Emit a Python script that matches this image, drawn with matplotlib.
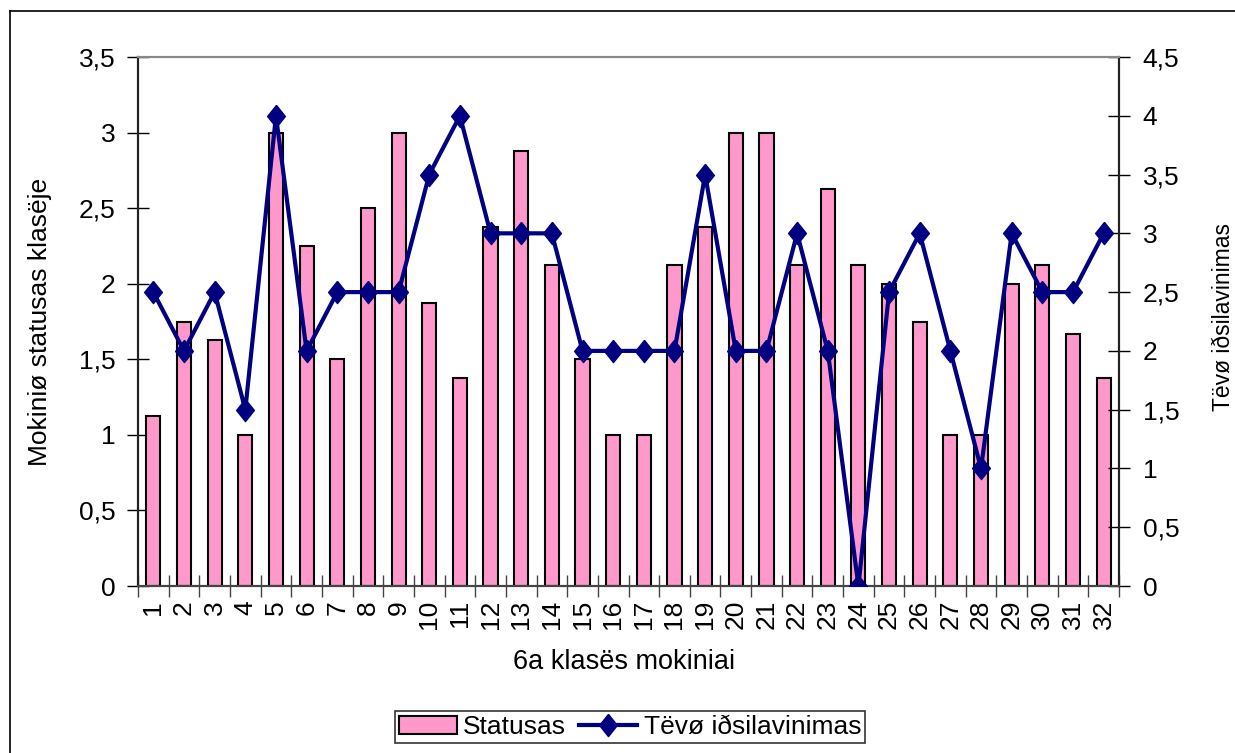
import matplotlib
matplotlib.use("Agg")
import matplotlib.pyplot as plt
from matplotlib.lines import Line2D
from matplotlib.ticker import FixedLocator, FuncFormatter

plt.rcParams['font.family'] = ['Liberation Sans', 'DejaVu Sans']

students = [str(i) for i in range(1, 33)]
statusas = [1.125, 1.75, 1.625, 1.0, 3.0, 2.25, 1.5, 2.5, 3.0, 1.875, 1.375, 2.375,
            2.875, 2.125, 1.5, 1.0, 1.0, 2.125, 2.375, 3.0, 3.0, 2.125, 2.625, 2.125,
            2.0, 1.75, 1.0, 1.0, 2.0, 2.125, 1.67, 1.375]
tevu = [2.5, 2.0, 2.5, 1.5, 4.0, 2.0, 2.5, 2.5, 2.5, 3.5, 4.0, 3.0, 3.0, 3.0, 2.0, 2.0,
        2.0, 2.0, 3.5, 2.0, 2.0, 3.0, 2.0, 0.0, 2.5, 3.0, 2.0, 1.0, 3.0, 2.5, 2.5, 3.0]

W, H = 1235, 753
fig = plt.figure(figsize=(W / 100, H / 100), dpi=100)
fig.patch.set_facecolor('white')

L, R, B, T = 138, 1119, 586, 57
ax = fig.add_axes([L / W, 1 - B / H, (R - L) / W, (B - T) / H])
ax2 = ax.twinx()

x = list(range(1, 33))
ax.bar(x, statusas, width=0.46, color='#FF99CC', edgecolor='black', linewidth=1.5,
       label='Statusas', zorder=2)

diamond = [(0, 1), (0.8, 0), (0, -1), (-0.8, 0), (0, 1)]
ax2.plot(x, tevu, color='#000080', linewidth=3, marker=diamond, markersize=16,
         label='Tëvø iðsilavinimas', zorder=3)

ax.set_xlim(0.5, 32.5)
ax.set_ylim(0, 3.5)
ax2.set_ylim(0, 4.5)

comma = FuncFormatter(lambda v, p: ('%g' % v).replace('.', ','))
ax.yaxis.set_major_locator(FixedLocator([0, 0.5, 1, 1.5, 2, 2.5, 3, 3.5]))
ax2.yaxis.set_major_locator(FixedLocator([0, 0.5, 1, 1.5, 2, 2.5, 3, 3.5, 4, 4.5]))
ax.yaxis.set_major_formatter(comma)
ax2.yaxis.set_major_formatter(comma)

ax.set_xticks(x)
ax.set_xticklabels(students, rotation=90)
ax.set_xticks([i + 0.5 for i in range(0, 33)], minor=True)
ax.tick_params(axis='x', which='major', length=0, labelsize=19, pad=10)
ax.tick_params(axis='x', which='minor', length=16, direction='inout', width=1, color='#444444')
ax.tick_params(axis='y', which='major', length=16, direction='inout', width=1, labelsize=19, pad=8)
ax2.tick_params(axis='y', which='major', length=16, direction='inout', width=1, labelsize=19, pad=9)

for a in (ax, ax2):
    a.spines['top'].set_color('#888888')
    a.spines['top'].set_linewidth(1.5)
    a.spines['bottom'].set_color('#444444')
    a.spines['bottom'].set_linewidth(1.5)
    a.spines['left'].set_color('#222222')
    a.spines['left'].set_linewidth(1.5)
    a.spines['right'].set_color('#222222')
    a.spines['right'].set_linewidth(1.5)

ax.set_xlabel('6a klasës mokiniai', fontsize=19.5, va='center')
ax.xaxis.set_label_coords((624 - L) / (R - L), (B - 662) / (B - T))
ax.set_ylabel('Mokiniø statusas klasëje', fontsize=19)
ax.yaxis.set_label_coords((52 - L) / (R - L), 0.5)
ax2.set_ylabel('Tëvø iðsilavinimas', fontsize=16.5, rotation=90)
ax2.yaxis.set_label_coords((1212 - L) / (R - L), (586 - 317) / (B - T))

h1, l1 = ax.get_legend_handles_labels()
h2, l2 = ax2.get_legend_handles_labels()
leg = fig.legend(h1 + h2, l1 + l2, loc='center', bbox_to_anchor=(630 / W, 1 - 727 / H),
                 ncol=2, fontsize=19, frameon=True, fancybox=False, edgecolor='black',
                 borderpad=0.15, handlelength=2.2, columnspacing=0.5, handletextpad=0.25,
                 borderaxespad=0)
leg.get_frame().set_linewidth(1.2)

fig.add_artist(Line2D([10 / W, 10 / W], [0, 1 - 11 / H], transform=fig.transFigure,
                      color='black', linewidth=1.2))
fig.add_artist(Line2D([10 / W, 1], [1 - 11 / H, 1 - 11 / H], transform=fig.transFigure,
                      color='black', linewidth=1.2))

fig.savefig('out.png', dpi=100)
